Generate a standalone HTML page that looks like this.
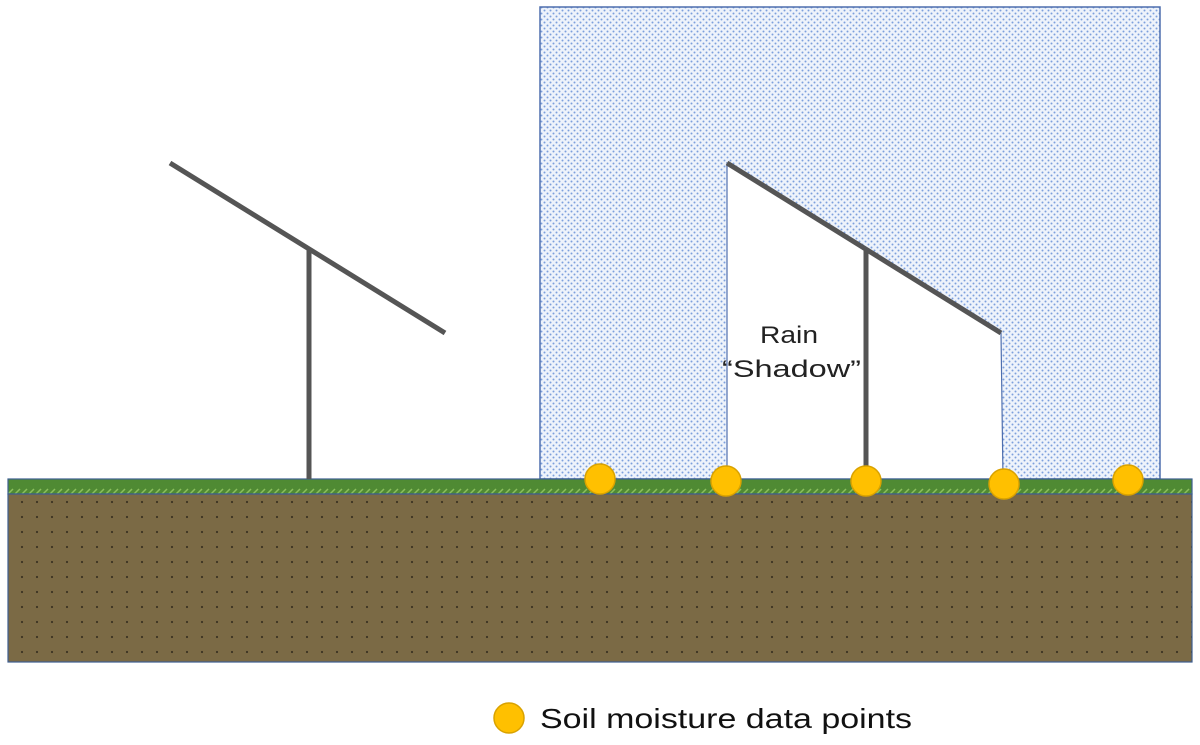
<!DOCTYPE html>
<html><head><style>body{margin:0;background:#fff}svg{display:block}</style></head><body>
<svg width="1200" height="745" viewBox="0 0 1200 745" xmlns="http://www.w3.org/2000/svg">
<defs>
<pattern id="rain" width="6" height="6" patternUnits="userSpaceOnUse">
<rect width="6" height="6" fill="#eef3fb"/>
<circle cx="1.5" cy="1.5" r="1" fill="#7d9fdc"/>
<circle cx="4.5" cy="4.5" r="1" fill="#7d9fdc"/>
</pattern>
<pattern id="soil" width="15" height="15" patternUnits="userSpaceOnUse">
<rect width="15" height="15" fill="#7b6a45"/>
<circle cx="7" cy="7" r="1.1" fill="#3b3322"/>
</pattern>
<pattern id="grass" width="7" height="15" patternUnits="userSpaceOnUse">
<rect width="7" height="15" fill="#4f8a33"/>
<line x1="1" y1="14" x2="6" y2="9" stroke="#8cc05e" stroke-width="1.5"/>
</pattern>
</defs>
<rect x="540" y="7" width="620" height="472" fill="url(#rain)" stroke="#4f6fae" stroke-width="1.5"/>
<polygon points="727,163 1001,333 1003,479 727,479" fill="#fff" stroke="#4f6fae" stroke-width="1.2"/>
<rect x="8" y="479" width="1184" height="15" fill="url(#grass)" stroke="#3d5e8f" stroke-width="1.2"/>
<rect x="8" y="494" width="1184" height="168" fill="url(#soil)" stroke="#3d5e8f" stroke-width="1.2"/>
<g stroke="#555" stroke-width="5" stroke-linecap="butt">
<line x1="170" y1="163" x2="445" y2="333"/>
<line x1="309" y1="250" x2="309" y2="479"/>
<line x1="727" y1="163" x2="1001" y2="333"/>
<line x1="866" y1="250" x2="866" y2="479"/>
</g>
<text x="760" y="343" font-family="Liberation Sans, sans-serif" font-size="24" textLength="58" lengthAdjust="spacingAndGlyphs" fill="#222">Rain</text>
<text x="722" y="377" font-family="Liberation Sans, sans-serif" font-size="24" textLength="139" lengthAdjust="spacingAndGlyphs" fill="#222">“Shadow”</text>
<g fill="#ffc000" stroke="#d9a200" stroke-width="1.5">
<circle cx="600" cy="479" r="15"/>
<circle cx="726" cy="481" r="15"/>
<circle cx="866" cy="481" r="15"/>
<circle cx="1004" cy="484" r="15"/>
<circle cx="1128" cy="480" r="15"/>
<circle cx="509" cy="718" r="15"/>
</g>
<text x="540" y="728" font-family="Liberation Sans, sans-serif" font-size="28" textLength="372" lengthAdjust="spacingAndGlyphs" fill="#111">Soil moisture data points</text>
</svg>
</body></html>
